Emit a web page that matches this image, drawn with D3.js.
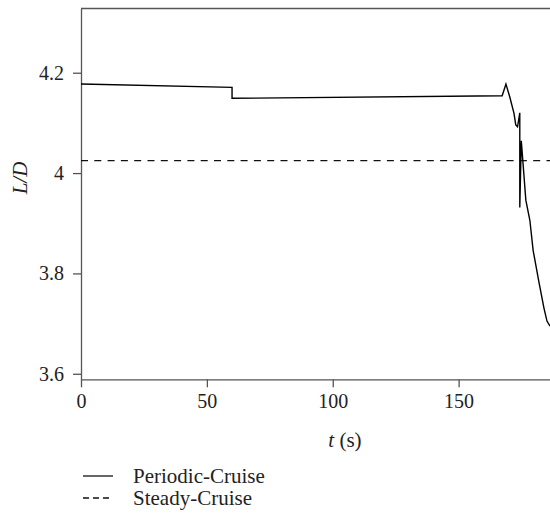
<!DOCTYPE html>
<html>
<head>
<meta charset="utf-8">
<script src="https://cdn.jsdelivr.net/npm/d3@7"></script>
<style>
  body { margin: 0; background: #fff; }
  svg { display: block; font-family: "Liberation Serif", "DejaVu Serif", serif; }
</style>
</head>
<body>
<div id="chart"></div>
<script>
// Data
const periodicTime = [0, 60, 60, 167.3, 168.8, 170.3, 172.0, 172.7, 173.4, 174.3, 174.3, 174.9, 176.7, 178.3, 179.6, 182.0, 183.9, 185.1, 186.3];
const periodicLD = [4.1775, 4.1709, 4.149, 4.154, 4.1775, 4.152, 4.119, 4.096, 4.0923, 4.120, 3.9316, 4.0644, 3.946, 3.906, 3.846, 3.780, 3.731, 3.705, 3.695];
const steadyTime = [0, 186.3];
const steadyLD = [4.025, 4.025];
const xTicks = [0, 50, 100, 150];
const yTicks = [3.6, 3.8, 4, 4.2];
const seriesNames = ['Periodic-Cruise', 'Steady-Cruise'];

const width = 550, height = 515;
const plotLeft = 81, plotRight = 550, plotTop = 8.5, plotBottom = 379.3;
const axisColor = '#555';
const textColor = '#222';

const svg = d3.select('#chart')
    .append('svg')
    .attr('width', width)
    .attr('height', height);

const x = d3.scaleLinear().domain([0, 186.3]).range([plotLeft, plotRight]);
const y = d3.scaleLinear().domain([3.589, 4.328]).range([plotBottom, plotTop]);

// Axes
const xAxis = svg.append('g')
    .attr('transform', `translate(0,${plotBottom})`)
    .call(d3.axisBottom(x).tickValues(xTicks).tickSize(8).tickPadding(7).tickSizeOuter(0));
const yAxis = svg.append('g')
    .attr('transform', `translate(${plotLeft},0)`)
    .call(d3.axisLeft(y).tickValues(yTicks).tickSize(8).tickPadding(9).tickSizeOuter(0).tickFormat(d3.format('')));

[xAxis, yAxis].forEach(g => {
    g.attr('font-family', '"Liberation Serif", serif').attr('font-size', 20);
    g.select('.domain').attr('stroke', axisColor).attr('stroke-width', 1.3);
    g.selectAll('.tick line').attr('stroke', axisColor).attr('stroke-width', 1.3);
    g.selectAll('.tick text')
        .attr('fill', textColor)
        .style('font-size', '20px')
        .style('font-family', '"Liberation Serif", serif');
});

// top border
svg.append('line')
    .attr('x1', plotLeft).attr('x2', plotRight)
    .attr('y1', plotTop).attr('y2', plotTop)
    .attr('stroke', axisColor)
    .attr('stroke-width', 1.3);

// Lines
const line = d3.line()
    .x(d => x(d[0]))
    .y(d => y(d[1]));

svg.append('path')
    .datum(steadyTime.map((t, i) => [t, steadyLD[i]]))
    .attr('d', line)
    .attr('fill', 'none')
    .attr('stroke', '#111')
    .attr('stroke-width', 1.3)
    .attr('stroke-dasharray', '7,6.3');

svg.append('path')
    .datum(periodicTime.map((t, i) => [t, periodicLD[i]]))
    .attr('d', line)
    .attr('fill', 'none')
    .attr('stroke', '#000')
    .attr('stroke-width', 1.4)
    .attr('stroke-linejoin', 'miter');

// Axis titles
const xTitle = svg.append('text')
    .attr('x', 345)
    .attr('y', 447)
    .attr('text-anchor', 'middle')
    .style('font-size', '21px')
    .attr('fill', textColor);
xTitle.append('tspan').style('font-style', 'italic').text('t');
xTitle.append('tspan').text(' (s)');

svg.append('text')
    .attr('transform', 'translate(27,178) rotate(-90)')
    .attr('text-anchor', 'middle')
    .style('font-size', '21px')
    .style('font-style', 'italic')
    .attr('fill', textColor)
    .text('L/D');

// Legend
const legend = svg.append('g');
seriesNames.forEach((name, i) => {
    const ly = 476 + i * 22;
    legend.append('line')
        .attr('x1', 83).attr('x2', 113)
        .attr('y1', ly).attr('y2', ly)
        .attr('stroke', '#111')
        .attr('stroke-width', 1.3)
        .attr('stroke-dasharray', i === 0 ? null : '6,4');
    legend.append('text')
        .attr('x', 133)
        .attr('y', ly + 7)
        .style('font-size', '21px')
        .attr('fill', textColor)
        .text(name);
});
</script>
</body>
</html>
